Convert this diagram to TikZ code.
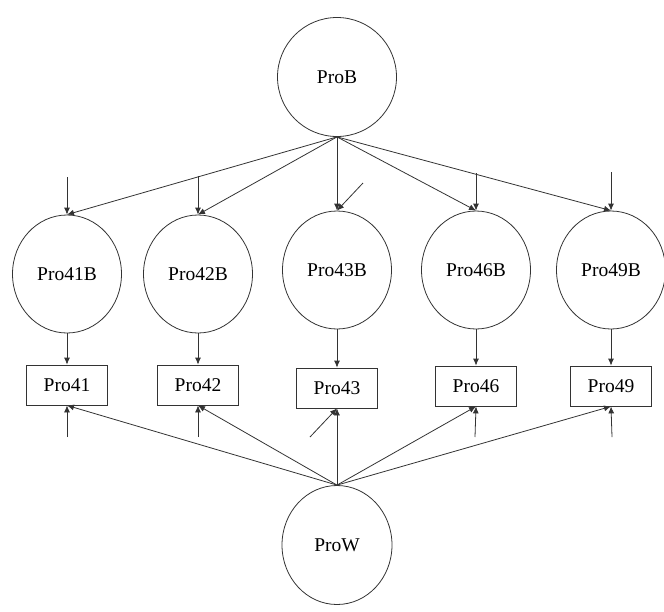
\documentclass[tikz,border=0pt]{standalone}
\usepackage{fontspec}
\setmainfont{Liberation Serif}
\usetikzlibrary{arrows.meta,shapes.geometric}
\begin{document}
\begin{tikzpicture}[x=1pt,y=-1pt,
    latent/.style={draw=black!80, ellipse, line width=0.8pt, minimum width=109pt, minimum height=118pt, inner sep=0pt, font=\fontsize{19.5}{22}\selectfont},
    item/.style={draw=black!80, rectangle, line width=0.8pt, minimum width=81pt, minimum height=40pt, inner sep=0pt, font=\fontsize{19.5}{22}\selectfont},
    arr/.style={draw=black!80, line width=0.8pt, -{Latex[length=7pt,width=6pt]}}]
    \useasboundingbox (0,0) rectangle (664,611);
    \node[latent, minimum width=119pt, minimum height=119pt] (prob) at (337,77) {ProB};
    \node[latent, minimum width=110pt, minimum height=119pt] (prow) at (337,545) {ProW};
    \foreach \n/\x/\y/\by in {41/67/274/385, 42/198/274/385, 43/337/270/388, 46/476/270/386, 49/611/270/386} {
        \node[latent] (b\n) at (\x,\y) {Pro\n B};
        \node[item] (x\n) at (\x,\by) {Pro\n};
        \draw[arr] (prob.south) -- (b\n.north);
        \draw[arr] (b\n.south) -- (x\n.north);
        \draw[arr] (prow.north) -- (x\n.south);
    }
    % error terms
    \coordinate (eb41) at (67,177);
    \coordinate (eb42) at (198,176);
    \coordinate (eb43) at (363,183);
    \coordinate (eb46) at (476,173);
    \coordinate (eb49) at (611,172);
    \coordinate (ex41) at (67,437);
    \coordinate (ex42) at (198,437);
    \coordinate (ex43) at (310,437);
    \coordinate (ex46) at (475,437);
    \coordinate (ex49) at (612,437);
    \foreach \n in {41,42,43,46,49} {
        \draw[arr] (eb\n) -- (b\n.north);
        \draw[arr] (ex\n) -- (x\n.south);
    }
\end{tikzpicture}
\end{document}
